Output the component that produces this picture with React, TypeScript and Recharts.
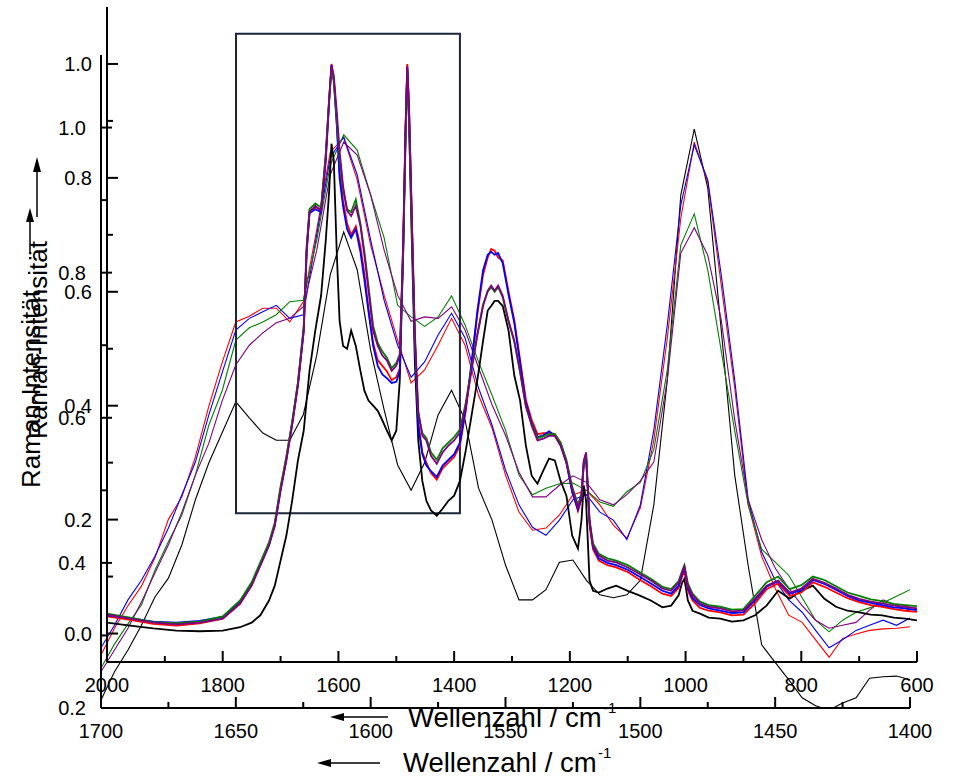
import React from "react";
import { LineChart, Line, XAxis, YAxis, ReferenceArea } from "recharts";

const FONT = "'Liberation Sans', Arial, sans-serif";

// full spectrum, wavenumber 2000 - 600 cm-1
const waveFull = [
  2000, 1960, 1920, 1880, 1840, 1800, 1770, 1750, 1735, 1720,
  1710, 1700, 1690, 1680, 1670, 1660, 1655, 1650, 1640, 1630,
  1622, 1616, 1612, 1608, 1603, 1598, 1592, 1585, 1578, 1570,
  1562, 1555, 1548, 1540, 1532, 1524, 1516, 1508, 1500, 1494,
  1488, 1484, 1481, 1478, 1474, 1468, 1462, 1455, 1448, 1440,
  1430, 1420, 1410, 1400, 1390, 1380, 1370, 1360, 1350, 1342,
  1336, 1330, 1324, 1316, 1306, 1296, 1286, 1276, 1266, 1256,
  1246, 1236, 1226, 1216, 1206, 1196, 1186, 1180, 1176, 1172,
  1166, 1160, 1150, 1135, 1120, 1100, 1080, 1060, 1040, 1025,
  1012, 1006, 1002, 996, 988, 975, 960, 940, 920, 900,
  880, 860, 840, 820, 800, 780, 760, 740, 720, 700,
  680, 660, 640, 620, 600,
];

const fullRed = [
  0.03, 0.024, 0.017, 0.014, 0.018, 0.026, 0.052, 0.085, 0.122, 0.158,
  0.192, 0.255, 0.31, 0.37, 0.44, 0.535, 0.67, 0.742, 0.748, 0.745,
  0.84, 0.94, 1.0, 0.975, 0.9, 0.81, 0.76, 0.72, 0.7, 0.715,
  0.68, 0.63, 0.57, 0.51, 0.48, 0.47, 0.46, 0.445, 0.45, 0.465,
  0.69, 0.89, 1.0, 0.93, 0.77, 0.52, 0.37, 0.318, 0.3, 0.282,
  0.27, 0.29, 0.3, 0.31, 0.33, 0.39, 0.47, 0.56, 0.63, 0.66,
  0.675, 0.672, 0.66, 0.655, 0.6, 0.55, 0.48, 0.41, 0.375, 0.35,
  0.352, 0.352, 0.35, 0.335, 0.302, 0.25, 0.215, 0.235, 0.3, 0.312,
  0.19, 0.148, 0.128, 0.12, 0.116, 0.108, 0.095, 0.083, 0.07, 0.066,
  0.08, 0.1, 0.11, 0.075, 0.058, 0.045, 0.04, 0.037, 0.032, 0.033,
  0.053, 0.078, 0.088, 0.066, 0.072, 0.09, 0.082, 0.072, 0.062, 0.055,
  0.05, 0.047, 0.043, 0.04, 0.038,
];

const fullBlue = [
  0.032, 0.027, 0.021, 0.019, 0.022, 0.029, 0.055, 0.088, 0.12, 0.156,
  0.19, 0.252, 0.305, 0.368, 0.438, 0.53, 0.668, 0.738, 0.745, 0.74,
  0.83, 0.935, 0.998, 0.97, 0.895, 0.8, 0.75, 0.71, 0.695, 0.71,
  0.67, 0.62, 0.565, 0.505, 0.47, 0.455, 0.448, 0.44, 0.442, 0.46,
  0.68, 0.88, 0.995, 0.92, 0.76, 0.51, 0.365, 0.315, 0.295, 0.285,
  0.275, 0.295, 0.305, 0.315, 0.335, 0.395, 0.475, 0.565, 0.638, 0.665,
  0.67, 0.665, 0.668, 0.65, 0.595, 0.545, 0.475, 0.405, 0.37, 0.345,
  0.348, 0.355, 0.348, 0.33, 0.3, 0.248, 0.218, 0.238, 0.295, 0.31,
  0.195, 0.152, 0.132, 0.124, 0.12, 0.112, 0.1, 0.088, 0.075, 0.07,
  0.084, 0.104, 0.116, 0.08, 0.062, 0.05, 0.044, 0.04, 0.036, 0.037,
  0.058, 0.082, 0.092, 0.07, 0.076, 0.094, 0.087, 0.077, 0.066, 0.058,
  0.054, 0.05, 0.046, 0.044, 0.041,
];

const fullGreen = [
  0.035, 0.028, 0.02, 0.018, 0.021, 0.03, 0.058, 0.09, 0.125, 0.16,
  0.195, 0.258, 0.31, 0.372, 0.44, 0.54, 0.68, 0.745, 0.755, 0.748,
  0.84, 0.94, 0.99, 0.97, 0.905, 0.835, 0.78, 0.745, 0.74, 0.762,
  0.72, 0.67, 0.61, 0.54, 0.51, 0.495, 0.484, 0.466, 0.475, 0.49,
  0.67, 0.86, 0.99, 0.9, 0.74, 0.52, 0.385, 0.352, 0.343, 0.318,
  0.305, 0.325, 0.335, 0.345, 0.358, 0.405, 0.465, 0.525, 0.578, 0.6,
  0.608, 0.6, 0.608, 0.59, 0.548, 0.512, 0.458, 0.398, 0.368, 0.343,
  0.346, 0.35, 0.35, 0.335, 0.305, 0.258, 0.226, 0.245, 0.3, 0.315,
  0.2, 0.158, 0.14, 0.132, 0.128, 0.12, 0.108, 0.096, 0.082, 0.078,
  0.092, 0.11, 0.12, 0.088, 0.07, 0.056, 0.05, 0.047, 0.042, 0.043,
  0.066, 0.09, 0.1, 0.078, 0.085, 0.1, 0.094, 0.083, 0.072, 0.066,
  0.06, 0.057, 0.052, 0.05, 0.048,
];

const fullPurple = [
  0.033, 0.026, 0.019, 0.016, 0.019, 0.026, 0.053, 0.084, 0.119, 0.154,
  0.189, 0.251, 0.304, 0.365, 0.435, 0.532, 0.672, 0.739, 0.751, 0.742,
  0.83, 0.935, 0.996, 0.979, 0.918, 0.847, 0.786, 0.742, 0.733, 0.751,
  0.716, 0.663, 0.602, 0.532, 0.505, 0.488, 0.479, 0.461, 0.47, 0.488,
  0.689, 0.882, 0.996, 0.918, 0.76, 0.532, 0.391, 0.347, 0.339, 0.312,
  0.298, 0.318, 0.33, 0.339, 0.353, 0.4, 0.461, 0.523, 0.575, 0.602,
  0.611, 0.602, 0.611, 0.593, 0.549, 0.514, 0.461, 0.4, 0.365, 0.339,
  0.342, 0.347, 0.347, 0.33, 0.3, 0.254, 0.221, 0.242, 0.304, 0.318,
  0.198, 0.154, 0.137, 0.128, 0.125, 0.116, 0.105, 0.093, 0.079, 0.075,
  0.089, 0.107, 0.118, 0.084, 0.067, 0.053, 0.047, 0.044, 0.039, 0.04,
  0.061, 0.084, 0.093, 0.072, 0.079, 0.096, 0.089, 0.079, 0.068, 0.061,
  0.056, 0.053, 0.049, 0.047, 0.044,
];

const fullBlack = [
  0.019, 0.014, 0.009, 0.005, 0.004, 0.005, 0.011, 0.019, 0.032, 0.058,
  0.084, 0.128, 0.172, 0.233, 0.304, 0.356, 0.409, 0.461, 0.532, 0.593,
  0.689, 0.777, 0.86, 0.83, 0.672, 0.549, 0.505, 0.5, 0.532, 0.505,
  0.461, 0.426, 0.409, 0.4, 0.391, 0.374, 0.356, 0.339, 0.356, 0.444,
  0.672, 0.882, 0.988, 0.9, 0.725, 0.479, 0.339, 0.268, 0.233, 0.216,
  0.207, 0.219, 0.233, 0.242, 0.268, 0.321, 0.382, 0.444, 0.514, 0.567,
  0.575, 0.584, 0.584, 0.575, 0.532, 0.453, 0.409, 0.33, 0.277, 0.263,
  0.286, 0.307, 0.304, 0.268, 0.242, 0.172, 0.149, 0.198, 0.26, 0.233,
  0.093, 0.075, 0.072, 0.079, 0.084, 0.075, 0.067, 0.058, 0.046, 0.049,
  0.067, 0.089, 0.096, 0.058, 0.04, 0.035, 0.028, 0.026, 0.021, 0.023,
  0.032, 0.049, 0.075, 0.061, 0.075, 0.084, 0.061, 0.047, 0.04, 0.037,
  0.033, 0.032, 0.028, 0.026, 0.023,
];

// detail window, wavenumber 1700 - 1400 cm-1
const waveZoom = [
  1700, 1695, 1690, 1685, 1680, 1675, 1670, 1665, 1660, 1655,
  1650, 1645, 1640, 1635, 1630, 1625, 1620, 1615, 1610, 1605,
  1600, 1595, 1590, 1585, 1580, 1575, 1570, 1565, 1560, 1555,
  1550, 1545, 1540, 1535, 1530, 1525, 1520, 1515, 1510, 1505,
  1500, 1495, 1490, 1485, 1480, 1475, 1470, 1465, 1460, 1455,
  1450, 1445, 1440, 1435, 1430, 1425, 1420, 1415, 1410, 1405,
  1400,
];

const zoomRed = [
  0.273, 0.31, 0.341, 0.368, 0.407, 0.46, 0.491, 0.546, 0.616, 0.677,
  0.732, 0.74, 0.751, 0.751, 0.732, 0.76, 0.859, 0.966, 0.986, 0.928,
  0.838, 0.769, 0.707, 0.648, 0.666, 0.7, 0.737, 0.7, 0.631, 0.586,
  0.521, 0.47, 0.445, 0.448, 0.466, 0.494, 0.5, 0.48, 0.452, 0.434,
  0.476, 0.569, 0.71, 0.875, 0.98, 0.925, 0.783, 0.641, 0.48, 0.409,
  0.365, 0.328, 0.318, 0.294, 0.27, 0.296, 0.302, 0.307, 0.309, 0.31,
  0.312,
];

const zoomBlue = [
  0.283, 0.314, 0.349, 0.376, 0.409, 0.448, 0.494, 0.539, 0.604, 0.663,
  0.721, 0.737, 0.746, 0.755, 0.737, 0.742, 0.852, 0.958, 0.987, 0.935,
  0.845, 0.762, 0.7, 0.656, 0.677, 0.714, 0.744, 0.71, 0.641, 0.59,
  0.528, 0.48, 0.449, 0.438, 0.459, 0.487, 0.494, 0.47, 0.459, 0.432,
  0.48, 0.583, 0.728, 0.893, 0.976, 0.928, 0.797, 0.652, 0.487, 0.415,
  0.376, 0.349, 0.332, 0.307, 0.283, 0.294, 0.307, 0.314, 0.321, 0.314,
  0.324,
];

const zoomGreen = [
  0.255, 0.288, 0.316, 0.342, 0.39, 0.429, 0.466, 0.521, 0.59, 0.638,
  0.707, 0.724, 0.732, 0.742, 0.76, 0.762, 0.845, 0.948, 0.99, 0.969,
  0.907, 0.848, 0.755, 0.739, 0.726, 0.739, 0.768, 0.728, 0.677, 0.631,
  0.583, 0.521, 0.494, 0.503, 0.509, 0.51, 0.5, 0.484, 0.478, 0.498,
  0.511, 0.556, 0.666, 0.838, 0.881, 0.804, 0.692, 0.582, 0.48, 0.419,
  0.401, 0.383, 0.352, 0.321, 0.305, 0.321, 0.332, 0.338, 0.345, 0.354,
  0.363,
];

const zoomPurple = [
  0.25, 0.28, 0.31, 0.346, 0.386, 0.425, 0.47, 0.521, 0.565, 0.624,
  0.673, 0.7, 0.717, 0.731, 0.737, 0.753, 0.831, 0.935, 0.98, 0.962,
  0.907, 0.831, 0.769, 0.733, 0.739, 0.737, 0.753, 0.721, 0.669, 0.618,
  0.576, 0.525, 0.491, 0.491, 0.507, 0.52, 0.511, 0.487, 0.48, 0.494,
  0.513, 0.539, 0.652, 0.827, 0.862, 0.824, 0.735, 0.597, 0.487, 0.432,
  0.393, 0.365, 0.341, 0.321, 0.31, 0.314, 0.318, 0.335, 0.349, 0.341,
  0.335,
];

const zoomBlack = [
  0.211, 0.25, 0.28, 0.314, 0.353, 0.379, 0.425, 0.487, 0.538, 0.58,
  0.622, 0.6, 0.579, 0.569, 0.569, 0.604, 0.686, 0.797, 0.856, 0.804,
  0.693, 0.611, 0.535, 0.5, 0.538, 0.604, 0.638, 0.597, 0.503, 0.459,
  0.397, 0.349, 0.349, 0.363, 0.401, 0.404, 0.376, 0.356, 0.352, 0.356,
  0.376, 0.48, 0.652, 0.907, 0.998, 0.917, 0.721, 0.521, 0.396, 0.287,
  0.263, 0.239, 0.214, 0.203, 0.197, 0.207, 0.214, 0.241, 0.243, 0.244,
  0.239,
];

// axis ticks
const fullTicksX = [2000, 1900, 1800, 1700, 1600, 1500, 1400, 1300, 1200, 1100, 1000, 900, 800, 700, 600];
const fullLabelsX = [2000, 1800, 1600, 1400, 1200, 1000, 800, 600];
const fullTicksY = [0, 0.1, 0.2, 0.3, 0.4, 0.5, 0.6, 0.7, 0.8, 0.9, 1.0];
const fullLabelsY = [0, 0.2, 0.4, 0.6, 0.8, 1.0];
const zoomTicksX = [1700, 1675, 1650, 1625, 1600, 1575, 1550, 1525, 1500, 1475, 1450, 1425, 1400];
const zoomLabelsX = [1700, 1650, 1600, 1550, 1500, 1450, 1400];
const zoomTicksY = [0.2, 0.3, 0.4, 0.5, 0.6, 0.7, 0.8, 0.9, 1.0];
const zoomLabelsY = [0.2, 0.4, 0.6, 0.8, 1.0];

const fullRows = waveFull.map((w, i) => ({
  w, red: fullRed[i], blue: fullBlue[i], green: fullGreen[i], purple: fullPurple[i], black: fullBlack[i],
}));
const zoomRows = waveZoom.map((w, i) => ({
  w, red: zoomRed[i], blue: zoomBlue[i], green: zoomGreen[i], purple: zoomPurple[i], black: zoomBlack[i],
}));

const bottomTick = (labels: number[]) => (props: any) => {
  const { x, y, payload } = props;
  const major = labels.includes(payload.value);
  return (
    <g>
      <line x1={x} y1={y} x2={x} y2={y - (major ? 11 : 6)} stroke="#000" strokeWidth={2} />
      {major && (
        <text x={x} y={y + 30} textAnchor="middle" fontSize={20} fontFamily={FONT} fill="#000">
          {payload.value}
        </text>
      )}
    </g>
  );
};

const leftTick = (labels: number[]) => (props: any) => {
  const { x, y, payload } = props;
  const major = labels.includes(payload.value);
  return (
    <g>
      <line x1={x} y1={y} x2={x + (major ? 11 : 6)} y2={y} stroke="#000" strokeWidth={2} />
      {major && (
        <text x={x - 15} y={y} dy="0.36em" textAnchor="end" fontSize={20} fontFamily={FONT} fill="#000">
          {payload.value.toFixed(1)}
        </text>
      )}
    </g>
  );
};

const topTick = (props: any) => (
  <line x1={props.x} y1={props.y} x2={props.x} y2={props.y + 3} stroke="#000" strokeWidth={2} />
);
const rightTick = (props: any) => (
  <line x1={props.x} y1={props.y} x2={props.x - 3} y2={props.y} stroke="#000" strokeWidth={2} />
);

const axisLine = { stroke: "#000", strokeWidth: 2 };

export default function App() {
  const w1 = 1.8;
  const w2 = 1.1;
  return (
    <div style={{ position: "absolute", left: 0, top: 0, width: 955, height: 777, background: "#fff" }}>
      {/* detail window 1700-1400 */}
      <div style={{ position: "absolute", left: 0, top: 0 }}>
        <LineChart width={955} height={777} data={zoomRows} margin={{ top: 55, right: 45, bottom: 39, left: 41 }}>
          <XAxis dataKey="w" type="number" domain={[1400, 1700]} reversed allowDataOverflow ticks={zoomTicksX}
            interval={0} height={30} tickSize={0} tickMargin={0} tickLine={false} axisLine={axisLine}
            tick={bottomTick(zoomLabelsX)} />
          <XAxis xAxisId="top" orientation="top" dataKey="w" type="number" domain={[1400, 1700]} reversed
            allowDataOverflow ticks={zoomTicksX} interval={0} height={0} tickSize={0} tickMargin={0}
            tickLine={false} axisLine={axisLine} tick={topTick} />
          <YAxis type="number" domain={[0.2, 1.1]} allowDataOverflow ticks={zoomTicksY} interval={0} width={60}
            tickSize={0} tickMargin={0} tickLine={false} axisLine={axisLine} tick={leftTick(zoomLabelsY)} />
          <YAxis yAxisId="right" orientation="right" type="number" domain={[0.2, 1.1]} allowDataOverflow
            ticks={zoomTicksY} interval={0} width={0} tickSize={0} tickMargin={0} tickLine={false}
            axisLine={axisLine} tick={rightTick} />
          <Line dataKey="black" stroke="#000000" strokeWidth={w2} dot={false} isAnimationActive={false} />
          <Line dataKey="red" stroke="#ff0000" strokeWidth={w2} dot={false} isAnimationActive={false} />
          <Line dataKey="blue" stroke="#0000ff" strokeWidth={w2} dot={false} isAnimationActive={false} />
          <Line dataKey="green" stroke="#008000" strokeWidth={w2} dot={false} isAnimationActive={false} />
          <Line dataKey="purple" stroke="#800080" strokeWidth={w2} dot={false} isAnimationActive={false} />
        </LineChart>
      </div>
      {/* full spectrum 2000-600 */}
      <div style={{ position: "absolute", left: 0, top: 0 }}>
        <LineChart width={955} height={777} data={fullRows} margin={{ top: 7, right: 38, bottom: 85, left: 47 }}>
          <XAxis dataKey="w" type="number" domain={[600, 2000]} reversed allowDataOverflow ticks={fullTicksX}
            interval={0} height={30} tickSize={0} tickMargin={0} tickLine={false} axisLine={axisLine}
            tick={bottomTick(fullLabelsX)} />
          <XAxis xAxisId="top" orientation="top" dataKey="w" type="number" domain={[600, 2000]} reversed
            allowDataOverflow ticks={fullTicksX} interval={0} height={0} tickSize={0} tickMargin={0}
            tickLine={false} axisLine={axisLine} tick={topTick} />
          <YAxis type="number" domain={[-0.05, 1.1]} allowDataOverflow ticks={fullTicksY} interval={0} width={60}
            tickSize={0} tickMargin={0} tickLine={false} axisLine={axisLine} tick={leftTick(fullLabelsY)} />
          <YAxis yAxisId="right" orientation="right" type="number" domain={[-0.05, 1.1]} allowDataOverflow
            ticks={fullTicksY} interval={0} width={0} tickSize={0} tickMargin={0} tickLine={false}
            axisLine={axisLine} tick={rightTick} />
          <ReferenceArea x1={1777} x2={1390} y1={0.211} y2={1.053} fill="#fff" fillOpacity={0}
            stroke="#1b2636" strokeWidth={2} ifOverflow="visible" />
          <Line dataKey="black" stroke="#000000" strokeWidth={w1} dot={false} isAnimationActive={false} />
          <Line dataKey="red" stroke="#ff0000" strokeWidth={w1} dot={false} isAnimationActive={false} />
          <Line dataKey="blue" stroke="#0000ff" strokeWidth={w1} dot={false} isAnimationActive={false} />
          <Line dataKey="green" stroke="#008000" strokeWidth={w1} dot={false} isAnimationActive={false} />
          <Line dataKey="purple" stroke="#800080" strokeWidth={w1} dot={false} isAnimationActive={false} />
        </LineChart>
      </div>
      {/* axis titles */}
      <svg width={955} height={777} style={{ position: "absolute", left: 0, top: 0, pointerEvents: "none" }}>
        <g fontFamily={FONT} fill="#000">
          <text x={408} y={727} fontSize={27.5}>Wellenzahl / cm</text>
          <text x={603} y={713} fontSize={15}>-1</text>
          <line x1={342} y1={717} x2={388} y2={717} stroke="#000" strokeWidth={1.5} />
          <polygon points="330,717 344,713 344,721" fill="#000" />

          <text x={403} y={772} fontSize={27.5}>Wellenzahl / cm</text>
          <text x={598} y={758} fontSize={15}>-1</text>
          <line x1={329} y1={763} x2={380} y2={763} stroke="#000" strokeWidth={1.5} />
          <polygon points="317,763 331,759 331,767" fill="#000" />

          <text x={40} y={488} fontSize={26} transform="rotate(-90 40 488)">Raman-Intensität</text>
          <line x1={30} y1={220} x2={30} y2={253} stroke="#000" strokeWidth={1.5} />
          <polygon points="30,208 26,222 34,222" fill="#000" />

          <text x={47} y={439} fontSize={26} transform="rotate(-90 47 439)">Raman-Intensität</text>
          <line x1={37} y1={170} x2={37} y2={217} stroke="#000" strokeWidth={1.5} />
          <polygon points="37,157 33,172 41,172" fill="#000" />
        </g>
      </svg>
    </div>
  );
}
